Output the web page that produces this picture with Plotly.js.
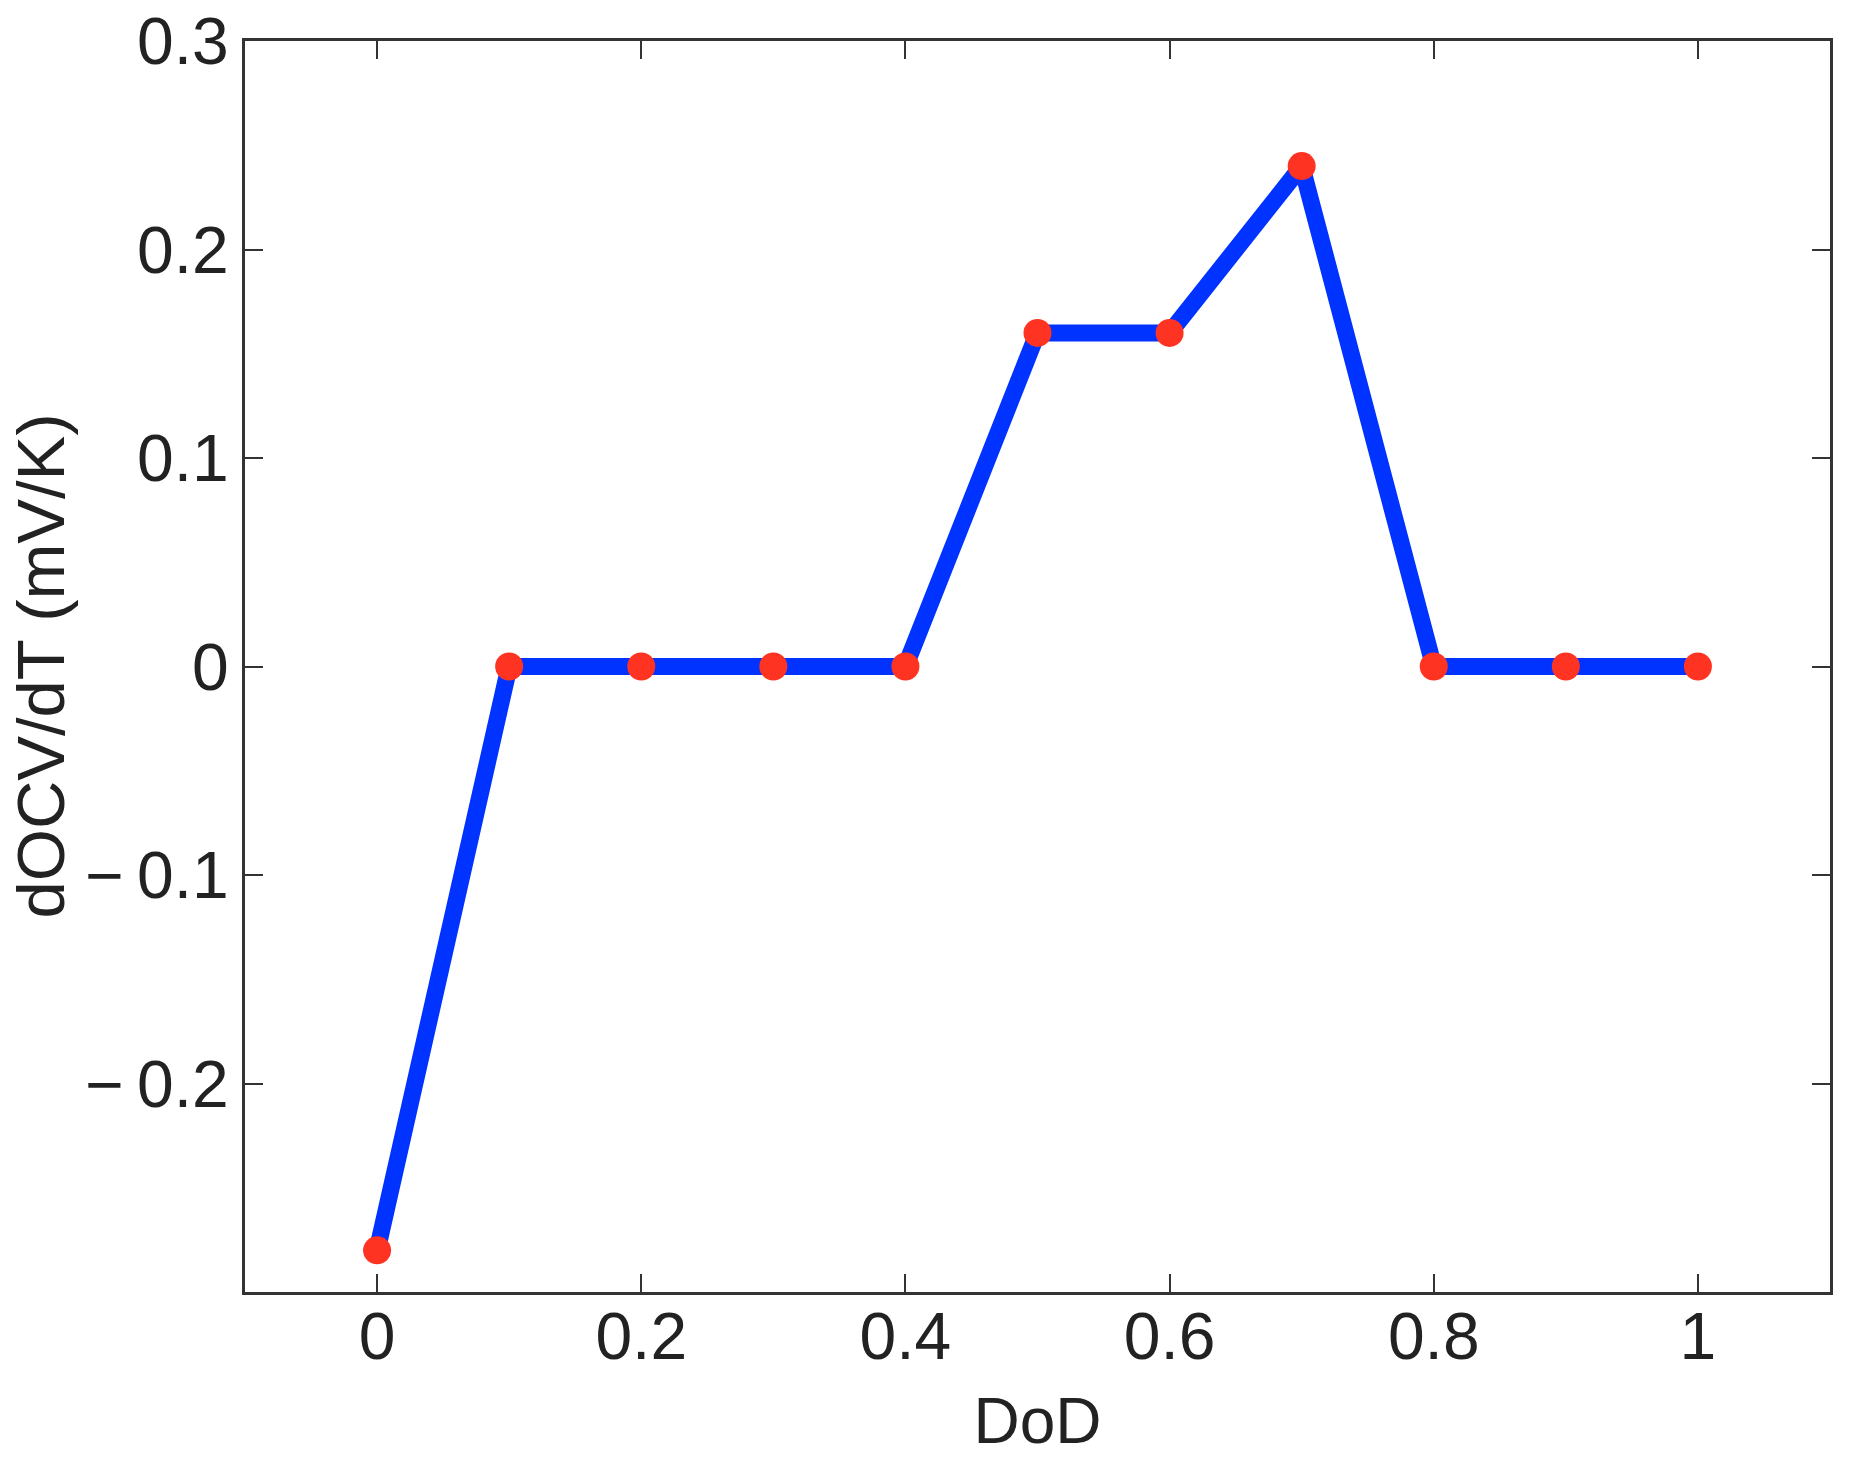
<!DOCTYPE html>
<html>
<head>
<meta charset="utf-8">
<script src="https://cdn.plot.ly/plotly-3.0.1.min.js"></script>
<style>html,body{margin:0;padding:0;background:#fff;}#chart{width:1855px;height:1462px;}</style>
</head>
<body>
<div id="chart"></div>
<script>
const dod = [0, 0.1, 0.2, 0.3, 0.4, 0.5, 0.6, 0.7, 0.8, 0.9, 1.0];
const dOCVdT = [-0.28, 0, 0, 0, 0, 0.16, 0.16, 0.24, 0, 0, 0];
const xTickVals = [0, 0.2, 0.4, 0.6, 0.8, 1];
const xTickText = ['0', '0.2', '0.4', '0.6', '0.8', '1'];
const yTickVals = [-0.2, -0.1, 0, 0.1, 0.2, 0.3];
const yTickText = ['\u2212\u20090.2', '\u2212\u20090.1', '0', '0.1', '0.2', '0.3'];
const xTitle = 'DoD';
const yTitle = 'dOCV/dT (mV/K)';

const fontFam = 'Liberation Sans, Arial, Helvetica, sans-serif';
const trace = {
  x: dod, y: dOCVdT, type: 'scatter', mode: 'lines+markers',
  line: {color: 'rgb(0,51,255)', width: 17},
  marker: {color: 'rgb(255,51,34)', size: 28},
  hoverinfo: 'skip'
};
const axisCommon = {
  showgrid: false, zeroline: false, showline: true, linecolor: '#333', linewidth: 3,
  mirror: 'ticks', ticks: 'inside', ticklen: 18, tickwidth: 2, tickcolor: '#333',
  tickfont: {family: fontFam, size: 66, color: '#222'}
};
const layout = {
  width: 1855, height: 1462,
  margin: {l: 245, r: 25, t: 41, b: 170},
  paper_bgcolor: '#fff', plot_bgcolor: '#fff',
  showlegend: false,
  xaxis: Object.assign({}, axisCommon, {
    range: [-0.1, 1.1], tickmode: 'array', tickvals: xTickVals, ticktext: xTickText,
    ticklabelstandoff: -15,
    title: {text: xTitle, font: {family: fontFam, size: 64, color: '#222'}, standoff: 26}
  }),
  yaxis: Object.assign({}, axisCommon, {
    range: [-0.3, 0.3], tickmode: 'array', tickvals: yTickVals, ticktext: yTickText,
    ticklabelstandoff: 0
  }),
  annotations: [{
    text: yTitle, textangle: -90, showarrow: false,
    xref: 'paper', yref: 'paper', x: 0, y: 0.5, xanchor: 'center', yanchor: 'middle',
    xshift: -205,
    font: {family: fontFam, size: 67, color: '#222'}
  }]
};
Plotly.newPlot('chart', [trace], layout, {displayModeBar: false, staticPlot: true});
</script>
</body>
</html>
